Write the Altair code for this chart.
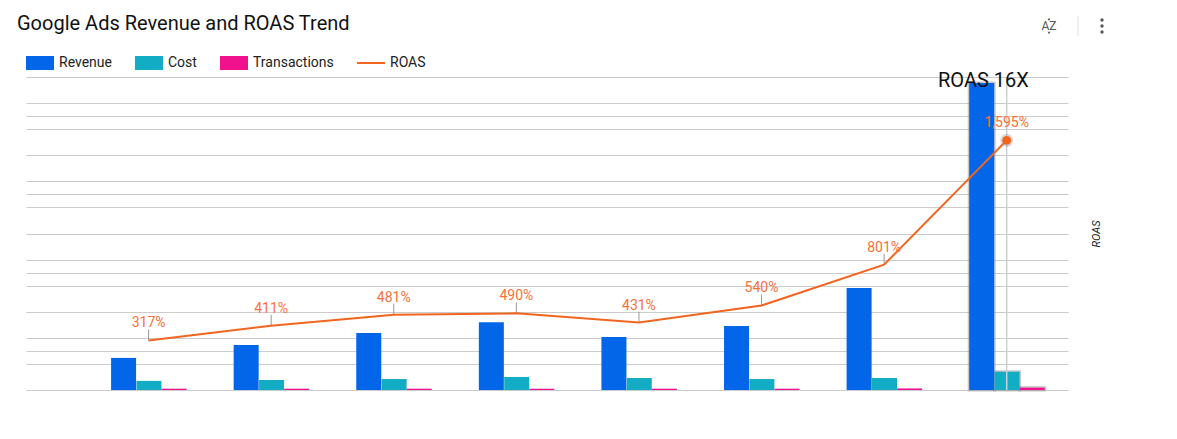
import altair as alt
import pandas as pd

periods = [1, 2, 3, 4, 5, 6, 7, 8]
revenue = [12.3, 17.3, 21.9, 26.0, 20.3, 24.5, 39.1, 117.7]
cost = [3.5, 3.8, 4.2, 5.0, 4.6, 4.2, 4.6, 7.0]
transactions = [0.5, 0.5, 0.5, 0.5, 0.5, 0.5, 0.6, 0.9]
roas = [317, 411, 481, 490, 431, 540, 801, 1595]
series = ["Revenue", "Cost", "Transactions", "ROAS"]
colors = ["#0366e8", "#12acc4", "#f0128c", "#f2651f"]
bar_grid = [i * 10 for i in range(13)]
roas_grid = [i * 250 for i in range(9)]

ROBOTO = "Roboto"
bar_rows = []
for name, vals, shift in [("Revenue", revenue, -0.204), ("Cost", cost, 0.003), ("Transactions", transactions, 0.208)]:
    for p, v in zip(periods, vals):
        bar_rows.append({"period": p, "pos": p + shift, "value": v, "series": name})
bars_df = pd.DataFrame(bar_rows)
roas_df = pd.DataFrame({"period": periods, "roas": roas})
roas_df["label"] = [f"{v:,}%" for v in roas]
roas_df["lead"] = roas_df["roas"] + 70

x_scale = alt.Scale(domain=[0, 8.5], nice=False, zero=False, padding=0)
x = alt.X("pos:Q", scale=x_scale, axis=None)
xp = alt.X("period:Q", scale=x_scale, axis=None)
yb_scale = alt.Scale(domain=[0, 120], nice=False, padding=0)
yr_scale = alt.Scale(domain=[0, 2000], nice=False, padding=0)
fill_scale = alt.Scale(domain=series[:3], range=colors[:3])
color_scale = alt.Scale(domain=series, range=colors)
GRID = "#cccccc"

left_axis = alt.Axis(values=bar_grid, labels=False, ticks=False, domain=False, title=None,
                     grid=True, gridColor=GRID, gridWidth=1, orient="left")
right_axis = alt.Axis(values=roas_grid, labels=False, ticks=False, domain=False, title="ROAS",
                      titleFont=ROBOTO, titleFontSize=11, titleFontStyle="italic", titleFontWeight="normal",
                      titleColor="#222222", titleAngle=270, titlePadding=33,
                      grid=True, gridColor=GRID, gridWidth=1, orient="right")

grid_b = alt.Chart(bars_df).mark_bar(size=25, opacity=0).encode(
    x=x, y=alt.Y("value:Q", scale=yb_scale, axis=left_axis))
glow = alt.Chart(bars_df[bars_df.period == 8]).mark_bar(
    size=25, fillOpacity=0, stroke="#888888", strokeWidth=3, strokeOpacity=0.45).encode(
    x=x, y=alt.Y("value:Q", scale=yb_scale, axis=None))
bars = alt.Chart(bars_df).mark_bar(size=25).encode(
    x=x, y=alt.Y("value:Q", scale=yb_scale, axis=None),
    fill=alt.Fill("series:N", scale=fill_scale, legend=None))

grid_r = alt.Chart(roas_df).mark_line(opacity=0).encode(
    x=xp, y=alt.Y("roas:Q", scale=yr_scale, axis=right_axis))
yr = alt.Y("roas:Q", scale=yr_scale, axis=None)
cursor = alt.Chart(roas_df[roas_df.period == 8]).mark_rule(color="#cfcfcf", strokeWidth=1.5).encode(
    x=xp, y=alt.value(0), y2=alt.value(313))
leaders = alt.Chart(roas_df[roas_df.period < 8]).mark_rule(color="#999999", strokeWidth=1).encode(
    x=xp, y=yr, y2="lead:Q")
line = alt.Chart(roas_df).mark_line(color=colors[3], strokeWidth=2).encode(x=xp, y=yr)
halo = alt.Chart(roas_df[roas_df.period == 8]).mark_point(filled=True, size=170, color="#888888", opacity=0.3).encode(x=xp, y=yr)
dot = alt.Chart(roas_df[roas_df.period == 8]).mark_point(filled=True, size=80, color=colors[3], opacity=1).encode(x=xp, y=yr)
labels = alt.Chart(roas_df).mark_text(font=ROBOTO, fontSize=14, color="#f9703a", dy=-17).encode(
    x=xp, y=yr, text="label:N")
note = alt.Chart(pd.DataFrame({"pos": [7.81], "roas": [1974], "t": ["ROAS 16X"]})).mark_text(
    font=ROBOTO, fontSize=20, color="#111111").encode(x=x, y=yr, text="t:N")

legend_df = pd.DataFrame({"period": [1, 1, 1, 1], "roas": [0, 0, 0, 0], "series": series})
legend_layer = alt.Chart(legend_df).mark_point(filled=True, size=0, opacity=1).encode(
    x=xp, y=yr,
    color=alt.Color("series:N", scale=color_scale, legend=alt.Legend(
        title=None, orient="none", legendX=0, legendY=-28, direction="horizontal", columns=4,
        gridAlign="none", columnPadding=23, symbolSize=784, symbolOpacity=1, symbolStrokeWidth=0,
        labelFont=ROBOTO, labelFontSize=14, labelColor="#222222", labelOffset=5, symbolOffset=0)),
    shape=alt.Shape("series:N", scale=alt.Scale(domain=series, range=[
        "M-1,-0.5H1V0.5H-1Z", "M-1,-0.5H1V0.5H-1Z", "M-1,-0.5H1V0.5H-1Z", "M-1,-0.07H1V0.07H-1Z"])))

icons = pd.DataFrame({"t": ["AZ"], "px": [1023], "py": [-51]})
icon_text = alt.Chart(icons).mark_text(font=ROBOTO, fontSize=12, color="#555555").encode(
    x=alt.X("px:Q", scale=None), y=alt.Y("py:Q", scale=None), text="t:N")
arrows = alt.Chart(pd.DataFrame({"px": [1023, 1023], "py": [-58, -44], "s": ["triangle-up", "triangle-down"]})).mark_point(
    filled=True, size=8, color="#555555", opacity=1).encode(
    x=alt.X("px:Q", scale=None), y=alt.Y("py:Q", scale=None),
    shape=alt.Shape("s:N", scale=None))
menu_dots = alt.Chart(pd.DataFrame({"px": [1076, 1076, 1076], "py": [-57, -51, -45]})).mark_point(
    filled=True, size=11, color="#555555", opacity=1).encode(
    x=alt.X("px:Q", scale=None), y=alt.Y("py:Q", scale=None))
sep = alt.Chart(pd.DataFrame({"px": [1052]})).mark_rule(color="#e0e0e0").encode(
    x=alt.X("px:Q", scale=None), y=alt.value(-61), y2=alt.value(-41))

chart = alt.layer(grid_b, grid_r, glow, bars, cursor, leaders, line, halo, dot, labels, note,
                  legend_layer, icon_text, arrows, menu_dots, sep).resolve_scale(y="independent").properties(
    width=1042, height=313,
    padding={"left": 18, "top": 69, "right": 101, "bottom": 32},
    autosize=alt.AutoSizeParams(type="none"),
    title=alt.TitleParams("Google Ads Revenue and ROAS Trend", anchor="start", frame="group",
                          font=ROBOTO, fontSize=20, fontWeight="normal", color="#111111", dx=-9, offset=-18),
).configure_view(stroke=None)

chart.save("out.html", embed_options={"renderer": "svg", "actions": False})
